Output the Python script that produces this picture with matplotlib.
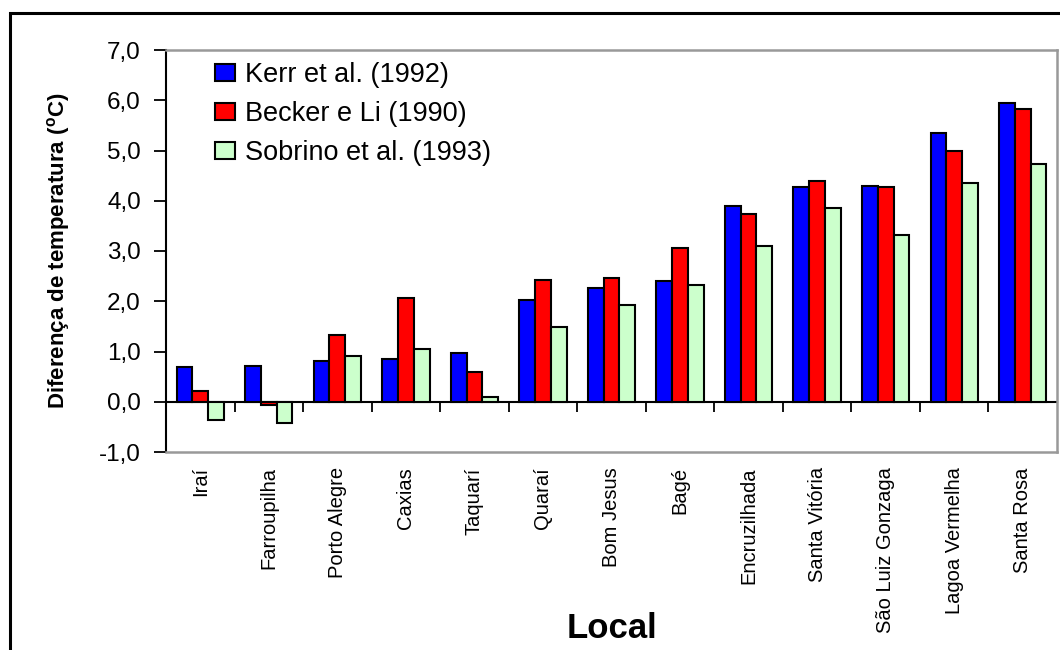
import matplotlib
matplotlib.use("Agg")
import matplotlib.pyplot as plt
import numpy as np
from matplotlib.patches import Rectangle

plt.rcParams['font.family'] = ['Liberation Sans', 'DejaVu Sans']

locais = ["Iraí", "Farroupilha", "Porto Alegre", "Caxias", "Taquarí", "Quaraí",
          "Bom Jesus", "Bagé", "Encruzilhada", "Santa Vitória", "São Luiz Gonzaga",
          "Lagoa Vermelha", "Santa Rosa"]
kerr = [0.69, 0.72, 0.82, 0.85, 0.98, 2.02, 2.27, 2.40, 3.89, 4.27, 4.30, 5.34, 5.95]
becker = [0.22, -0.07, 1.32, 2.06, 0.59, 2.43, 2.46, 3.06, 3.73, 4.39, 4.27, 5.00, 5.82]
sobrino = [-0.36, -0.43, 0.92, 1.04, 0.09, 1.48, 1.92, 2.33, 3.09, 3.85, 3.32, 4.36, 4.74]
series_labels = ["Kerr et al. (1992)", "Becker e Li (1990)", "Sobrino et al. (1993)"]
series_colors = ["#0000FF", "#FF0000", "#CCFFCC"]
yticks = [-1, 0, 1, 2, 3, 4, 5, 6, 7]
ytick_labels = ["-1,0", "0,0", "1,0", "2,0", "3,0", "4,0", "5,0", "6,0", "7,0"]

W, H = 1060, 650
fig = plt.figure(figsize=(W / 100, H / 100), dpi=100)
ax = fig.add_axes([166 / W, 1 - 452 / H, (1057 - 166) / W, (452 - 50) / H])

x = np.arange(len(locais))
bw = 0.23
for i, (vals, lab, col) in enumerate(zip([kerr, becker, sobrino], series_labels, series_colors)):
    ax.bar(x + (i - 1) * bw, vals, bw, color=col, edgecolor='black', linewidth=1.5,
           label=lab, zorder=3)

ax.set_xlim(-0.5, len(locais) - 0.5)
ax.set_ylim(-1, 7)
ax.set_yticks(yticks)
ax.set_yticklabels(ytick_labels, fontsize=17.5)
ax.tick_params(axis='y', direction='out', length=9, width=1.3, pad=9)
ax.set_xticks(x)
ax.set_xticklabels(locais, rotation=90, fontsize=14.5, va='top', ha='center')
ax.tick_params(axis='x', length=0, pad=11)

for s in ['top', 'right', 'bottom']:
    ax.spines[s].set_color('#999999')
    ax.spines[s].set_linewidth(1.8)
ax.spines['left'].set_color('black')
ax.spines['left'].set_linewidth(1.5)

# zero axis with separator ticks
sec = ax.secondary_xaxis(1 / 8)
sec.set_xticks(x[:-1] + 0.5)
sec.set_xticklabels([])
sec.tick_params(direction='out', length=7, width=1.3, color='black')
sec.spines['bottom'].set_linewidth(1.5)
sec.spines['bottom'].set_color('black')

ax.set_ylabel(r'Diferença de temperatura ($^{\mathregular{o}}$C)', fontsize=16,
              fontweight='bold', va='center')
ax.yaxis.set_label_coords((58 - 166) / 891, 0.5)
ax.set_xlabel('Local', fontsize=25, fontweight='bold', va='center')
ax.xaxis.set_label_coords((612 - 166) / 891, (452 - 628) / 402)

leg = ax.legend(loc='upper left', bbox_to_anchor=(0.055, 0.97), frameon=False,
                fontsize=19.5, borderpad=0, borderaxespad=0, handlelength=0.75,
                handleheight=0.55, handletextpad=0.35, labelspacing=0.48)

fig.add_artist(Rectangle((10 / W, -0.1), 1.2, (H - 13) / H + 0.1, transform=fig.transFigure,
                         fill=False, edgecolor='black', linewidth=2.2))

fig.savefig('out.png', dpi=100)
